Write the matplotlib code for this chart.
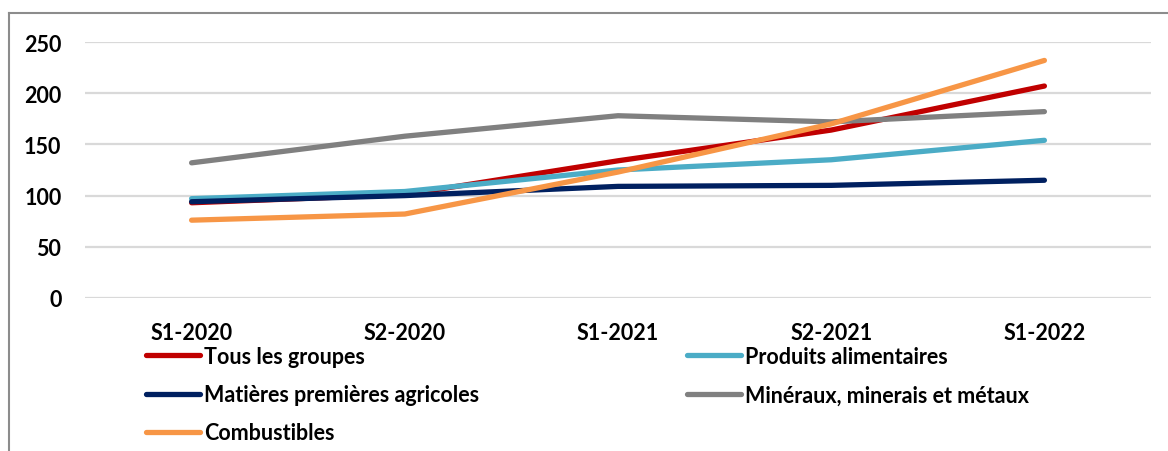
import matplotlib

matplotlib.use("Agg")
import matplotlib.pyplot as plt
from matplotlib.lines import Line2D

plt.rcParams["font.family"] = ["Lato", "DejaVu Sans"]
plt.rcParams["font.weight"] = "bold"

categories = ["S1-2020", "S2-2020", "S1-2021", "S2-2021", "S1-2022"]
tous_les_groupes = [93, 101, 134, 164, 207]
produits_alimentaires = [97, 104, 125, 135, 154]
matieres_agricoles = [94, 100, 109, 110, 115]
mineraux_metaux = [132, 158, 178, 172, 182]
combustibles = [76, 82, 123, 170, 232]

series = [
    ("Tous les groupes", tous_les_groupes, "#C00000"),
    ("Produits alimentaires", produits_alimentaires, "#4BACC6"),
    ("Matières premières agricoles", matieres_agricoles, "#002060"),
    ("Minéraux, minerais et métaux", mineraux_metaux, "#808080"),
    ("Combustibles", combustibles, "#F79646"),
]

W, H = 1168, 452
fig = plt.figure(figsize=(W / 100, H / 100), dpi=100)
ax = fig.add_axes([85 / W, 1 - 299 / H, (1151 - 85) / W, (299 - 43) / H])

x = range(len(categories))
handles = {}
for label, values, color in series:
    (ln,) = ax.plot(x, values, color=color, lw=3.8, solid_capstyle="round", label=label)
    handles[label] = ln

ax.set_xlim(-0.5, len(categories) - 0.5)
ax.set_ylim(0, 250)
ax.set_yticks([0, 50, 100, 150, 200, 250])
ax.set_xticks(list(x))
ax.set_xticklabels(categories)
ax.grid(axis="y", color="#d9d9d9", lw=1.6)
ax.set_axisbelow(True)
for spine in ax.spines.values():
    spine.set_visible(False)
ax.tick_params(axis="both", length=0, labelsize=15.5)
ax.tick_params(axis="x", pad=17)
ax.tick_params(axis="y", pad=17)

# legend, two columns placed separately
leg_kw = dict(
    frameon=False,
    fontsize=15.5,
    handlelength=2.5,
    handletextpad=0.2,
    labelspacing=0.8,
    borderpad=0,
    borderaxespad=0,
    loc="upper left",
)
left_labels = ["Tous les groupes", "Matières premières agricoles", "Combustibles"]
right_labels = ["Produits alimentaires", "Minéraux, minerais et métaux"]
fig.legend([handles[k] for k in left_labels], left_labels,
           bbox_to_anchor=(146 / W, 1 - 347 / H), **leg_kw)
fig.legend([handles[k] for k in right_labels], right_labels,
           bbox_to_anchor=(687 / W, 1 - 347 / H), **leg_kw)

# outer frame (left and top only)
fig.add_artist(Line2D([8.5 / W, 8.5 / W], [0, 1 - 14 / H], color="#8c8c8c", lw=1.5,
                      transform=fig.transFigure))
fig.add_artist(Line2D([8.5 / W, 1], [1 - 14 / H, 1 - 14 / H], color="#8c8c8c", lw=1.5,
                      transform=fig.transFigure))

fig.savefig("out.png", dpi=100)
